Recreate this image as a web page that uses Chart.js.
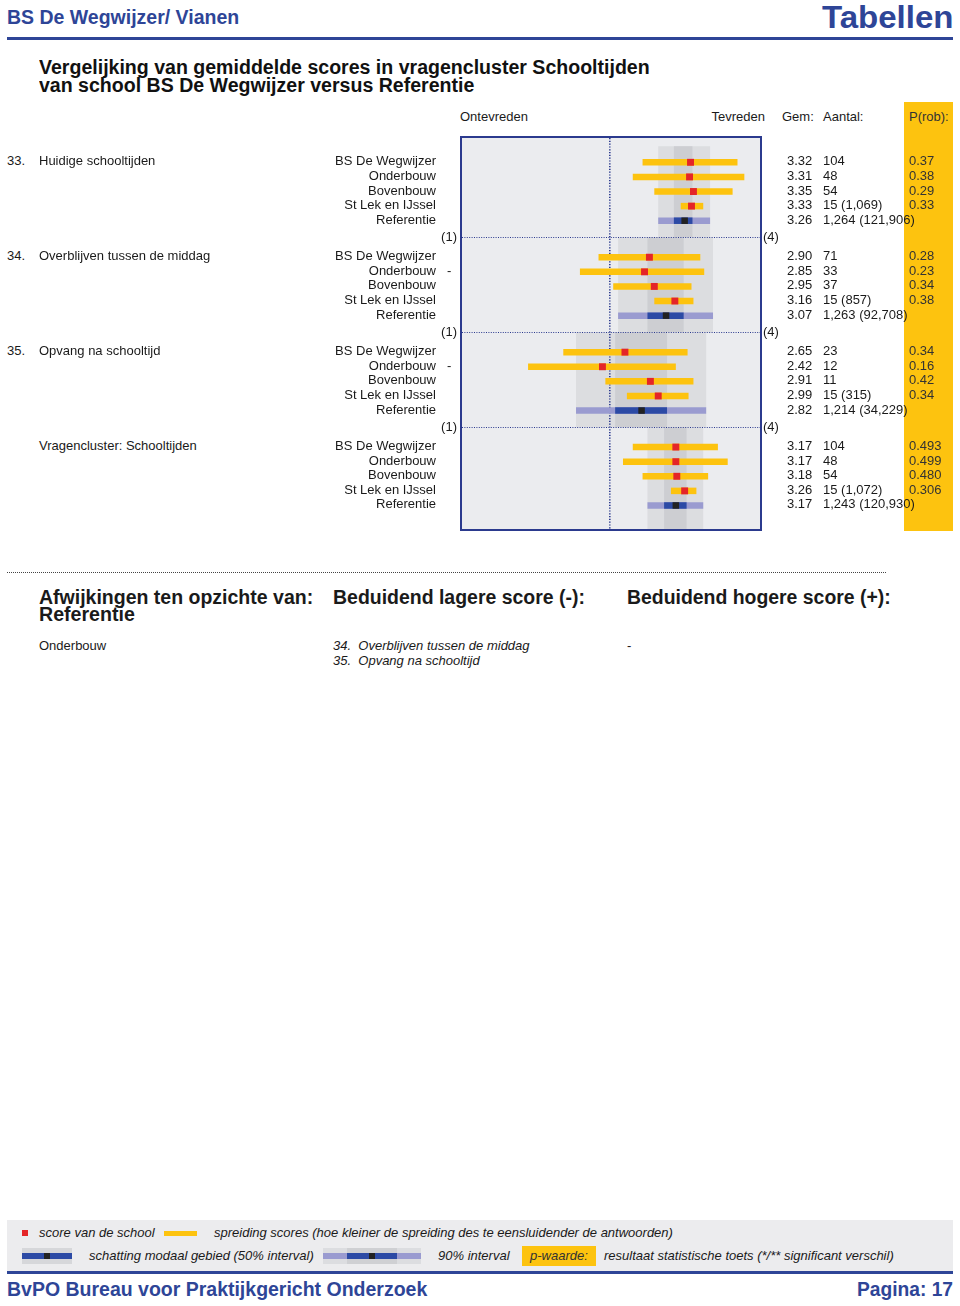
<!DOCTYPE html>
<html>
<head>
<meta charset="utf-8">
<title>Schooltijden</title>
<script src="https://cdn.jsdelivr.net/npm/chart.js@4.4.0/dist/chart.umd.min.js"></script>
<style>
body { margin:0; width:960px; height:1306px; position:relative; background:#fff; overflow:hidden;
       font-family:"Liberation Sans", Arial, sans-serif; font-size:13px; color:#1a1a1a; }
.abs { position:absolute; white-space:nowrap; }
.nar { font-family:"Liberation Sans", Arial, sans-serif; font-weight:bold; transform-origin:left top; }
.nar.rechts { transform-origin:right top; }
.blue { color:#2e4597; }
.row { height:16px; line-height:16px; }
.it { font-style:italic; }
#box { position:absolute; left:460px; top:136px; width:302px; height:395px; box-sizing:border-box;
       border:2px solid #2b3a8e; background:#ebecef; }
#box canvas { display:block; }
</style>
</head>
<body>

<div class="abs nar blue" data-w="232" style="left:7px;top:6px;font-size:21px;line-height:21px;">BS De Wegwijzer/ Vianen</div>
<div class="abs nar blue rechts" data-w="131" style="right:7px;top:0px;font-size:31px;line-height:35px;">Tabellen</div>
<div class="abs" style="left:7px;top:37px;width:946px;height:3px;background:#2e4597;"></div>

<div class="abs nar" data-w="611" style="left:39px;top:58px;font-size:20px;line-height:18px;height:18px;color:#111;">Vergelijking van gemiddelde scores in vragencluster Schooltijden</div>
<div class="abs nar" data-w="435" style="left:39px;top:76px;font-size:20px;line-height:18px;height:18px;color:#111;">van school BS De Wegwijzer versus Referentie</div>

<!-- P(rob) kolom -->
<div class="abs" style="left:904px;top:102px;width:49px;height:429px;background:#fdc30f;"></div>

<div class="abs row" style="left:460px;top:109px;">Ontevreden</div>
<div class="abs row" style="right:195px;top:109px;">Tevreden</div>
<div class="abs row" style="left:782px;top:109px;">Gem:</div>
<div class="abs row" style="left:823px;top:109px;">Aantal:</div>
<div class="abs row" style="left:909px;top:109px;color:#333;">P(rob):</div>

<div id="box"><canvas id="grafiek" width="298" height="391"></canvas></div>
<div id="teksten"></div>

<div class="abs" style="left:7px;top:572px;width:879px;border-top:1px dotted #444;"></div>
<div class="abs nar" data-w="274" style="left:39px;top:589px;font-size:20px;line-height:17px;height:17px;">Afwijkingen ten opzichte van:</div>
<div class="abs nar" data-w="96" style="left:39px;top:606px;font-size:20px;line-height:17px;height:17px;">Referentie</div>
<div class="abs nar" data-w="252" style="left:333px;top:589px;font-size:20px;line-height:17px;">Beduidend lagere score (-):</div>
<div class="abs nar" data-w="264" style="left:627px;top:589px;font-size:20px;line-height:17px;">Beduidend hogere score (+):</div>
<div class="abs row" style="left:39px;top:638px;">Onderbouw</div>
<div class="abs row it" style="left:333px;top:638px;">34.&nbsp; Overblijven tussen de middag</div>
<div class="abs row it" style="left:333px;top:653px;">35.&nbsp; Opvang na schooltijd</div>
<div class="abs row" style="left:627px;top:638px;">-</div>

<!-- legenda -->
<div class="abs" style="left:7px;top:1220px;width:946px;height:51px;background:#ececee;"></div>
<div class="abs" style="left:22px;top:1230px;width:6px;height:6px;background:#e42528;"></div>
<div class="abs row it" style="left:39px;top:1225px;">score van de school</div>
<div class="abs" style="left:164px;top:1231px;width:33px;height:5px;background:#fdc30f;"></div>
<div class="abs row it" style="left:214px;top:1225px;">spreiding scores (hoe kleiner de spreiding des te eensluidender de antwoorden)</div>

<div class="abs" style="left:22px;top:1248px;width:50px;height:16px;background:#d6d7da;"></div>
<div class="abs" style="left:22px;top:1253px;width:50px;height:6px;background:#2c4aa5;"></div>
<div class="abs" style="left:44px;top:1253px;width:6px;height:6px;background:#222;"></div>
<div class="abs row it" style="left:89px;top:1248px;">schatting modaal gebied (50% interval)</div>

<div class="abs" style="left:323px;top:1248px;width:98px;height:16px;background:#dcdde0;"></div>
<div class="abs" style="left:347px;top:1248px;width:50px;height:16px;background:#cfd0d3;"></div>
<div class="abs" style="left:323px;top:1253px;width:98px;height:6px;background:#9a9bd0;"></div>
<div class="abs" style="left:347px;top:1253px;width:50px;height:6px;background:#2c4aa5;"></div>
<div class="abs" style="left:369px;top:1253px;width:6px;height:6px;background:#222;"></div>
<div class="abs row it" style="left:438px;top:1248px;">90% interval</div>
<div class="abs" style="left:522px;top:1246px;width:74px;height:20px;background:#fdc30f;"></div>
<div class="abs row it" style="left:530px;top:1248px;color:#333;">p-waarde:</div>
<div class="abs row it" style="left:604px;top:1248px;">resultaat statistische toets (*/** significant verschil)</div>

<div class="abs" style="left:7px;top:1271px;width:946px;height:3px;background:#2e4597;"></div>
<div class="abs nar blue" data-w="420" style="left:7px;top:1279px;font-size:20px;line-height:20px;">BvPO Bureau voor Praktijkgericht Onderzoek</div>
<div class="abs nar blue rechts" data-w="96" style="right:7px;top:1279px;font-size:20px;line-height:20px;">Pagina: 17</div>

<script>
// data
const vraagNummers = ['33.', '34.', '35.', ''];
const vraagTitels = ['Huidige schooltijden', 'Overblijven tussen de middag', 'Opvang na schooltijd', 'Vragencluster: Schooltijden'];
const groepen = ['BS De Wegwijzer', 'Onderbouw', 'Bovenbouw', 'St Lek en IJssel', 'Referentie'];

const gemiddelden = [
    [3.32, 3.31, 3.35, 3.33, 3.26],
    [2.90, 2.85, 2.95, 3.16, 3.07],
    [2.65, 2.42, 2.91, 2.99, 2.82],
    [3.17, 3.17, 3.18, 3.26, 3.17]
];
const aantallen = [
    ['104', '48', '54', '15 (1,069)', '1,264 (121,906)'],
    ['71', '33', '37', '15 (857)', '1,263 (92,708)'],
    ['23', '12', '11', '15 (315)', '1,214 (34,229)'],
    ['104', '48', '54', '15 (1,072)', '1,243 (120,930)']
];
const pRob = [
    ['0.37', '0.38', '0.29', '0.33'],
    ['0.28', '0.23', '0.34', '0.38'],
    ['0.34', '0.16', '0.42', '0.34'],
    ['0.493', '0.499', '0.480', '0.306']
];
const significant = [
    ['', '', '', ''],
    ['', '-', '', ''],
    ['', '-', '', ''],
    ['', '', '', '']
];
// spreiding (gele balken)
const spreidingLaag = [
    [2.83, 2.73, 2.95, 3.22],
    [2.38, 2.19, 2.53, 2.95],
    [2.02, 1.66, 2.45, 2.67],
    [2.73, 2.63, 2.83, 3.12]
];
const spreidingHoog = [
    [3.80, 3.87, 3.75, 3.45],
    [3.42, 3.46, 3.33, 3.35],
    [3.29, 3.17, 3.35, 3.30],
    [3.60, 3.70, 3.50, 3.38]
];
// referentie intervallen
const ref90Laag = [2.99, 2.58, 2.15, 2.88];
const ref90Hoog = [3.52, 3.55, 3.48, 3.45];
const ref50Laag = [3.15, 2.88, 2.55, 3.05];
const ref50Hoog = [3.34, 3.25, 3.08, 3.28];
const schaalLabels = ['(1)', '(4)'];

// koppen smaller maken (Arial Narrow look)
document.querySelectorAll('.nar[data-w]').forEach(el => {
    const w = el.scrollWidth;
    el.style.transform = `scaleX(${(+el.dataset.w / w).toFixed(4)})`;
});

// layout van de rijen (in rij-eenheden)
const GROEP_STAP = 6.5;
const SCHEIDING = 5.14;
const Y_MIN = -1.664, Y_MAX = 25.11;
const rijY = (g, r) => g * GROEP_STAP + r;
const scheidingen = [0, 1, 2].map(g => rijY(g, SCHEIDING));

const kleurGeel = '#fdc30f', kleurRood = '#e42528', kleurPaars = '#9a9bd0', kleurBlauw = '#2c4aa5', kleurZwart = '#222';

const datasets = [];
const lijn = (lo, hi, y, kleur, order) => ({
    type: 'line',
    data: [{ x: lo, y: y }, { x: hi, y: y }],
    borderColor: kleur,
    borderWidth: 6.5,
    borderCapStyle: 'butt',
    pointRadius: 0,
    order: order
});

const schoolPunten = [];
const refPunten = [];
gemiddelden.forEach((rij, g) => {
    for (let r = 0; r < 4; r++) {
        datasets.push(lijn(spreidingLaag[g][r], spreidingHoog[g][r], rijY(g, r), kleurGeel, 3));
        schoolPunten.push({ x: rij[r], y: rijY(g, r) });
    }
    datasets.push(lijn(ref90Laag[g], ref90Hoog[g], rijY(g, 4), kleurPaars, 3));
    datasets.push(lijn(ref50Laag[g], ref50Hoog[g], rijY(g, 4), kleurBlauw, 2));
    refPunten.push({ x: rij[4], y: rijY(g, 4) });
});
datasets.push({ type: 'scatter', data: schoolPunten, pointStyle: 'rect', pointRadius: 4.9, pointBorderWidth: 0, backgroundColor: kleurRood, order: 0 });
datasets.push({ type: 'scatter', data: refPunten, pointStyle: 'rect', pointRadius: 4.6, pointBorderWidth: 0, backgroundColor: kleurZwart, order: 0 });

// grijze banden achter de groepen (referentie intervallen)
const bandenPlugin = {
    id: 'banden',
    beforeDraw(chart) {
        const { ctx, scales: { x, y } } = chart;
        ctx.save();
        for (let g = 0; g < 4; g++) {
            const boven = g === 0 ? rijY(0, -1.1) : scheidingen[g - 1];
            const onder = g === 3 ? Y_MAX : scheidingen[g];
            const y1 = y.getPixelForValue(boven), y2 = y.getPixelForValue(onder);
            ctx.fillStyle = '#dcdde0';
            let x1 = x.getPixelForValue(ref90Laag[g]), x2 = x.getPixelForValue(ref90Hoog[g]);
            ctx.fillRect(x1, y1, x2 - x1, y2 - y1);
            ctx.fillStyle = '#cdced2';
            x1 = x.getPixelForValue(ref50Laag[g]); x2 = x.getPixelForValue(ref50Hoog[g]);
            ctx.fillRect(x1, y1, x2 - x1, y2 - y1);
        }
        ctx.restore();
    }
};

const canvas = document.getElementById('grafiek');
const grafiek = new Chart(canvas.getContext('2d'), {
    data: { datasets: datasets },
    options: {
        responsive: false,
        animation: false,
        events: [],
        layout: { padding: 0, autoPadding: false },
        plugins: { legend: { display: false }, tooltip: { enabled: false } },
        scales: {
            x: {
                type: 'linear', min: 0.985, max: 4.03,
                afterBuildTicks: s => { s.ticks = [{ value: 2.5 }]; },
                ticks: { display: false },
                grid: { color: '#2b3a8e', lineWidth: 1.6, drawTicks: false },
                border: { display: false, dash: [1.2, 1.6] }
            },
            y: {
                type: 'linear', min: Y_MIN, max: Y_MAX, reverse: true,
                afterBuildTicks: s => { s.ticks = scheidingen.map(v => ({ value: v })); },
                ticks: { display: false },
                grid: { color: '#2b3a8e', lineWidth: 1, drawTicks: false },
                border: { display: false, dash: [1, 1.4] }
            }
        }
    },
    plugins: [bandenPlugin]
});

// tekst naast de grafiek, uitgelijnd op de y-as
const teksten = document.getElementById('teksten');
const boxTop = 138;
const pix = v => boxTop + grafiek.scales.y.getPixelForValue(v);
function tekst(inhoud, stijl) {
    const d = document.createElement('div');
    d.className = 'abs row';
    d.textContent = inhoud;
    d.style.cssText += stijl;
    teksten.appendChild(d);
}
gemiddelden.forEach((rij, g) => {
    const y0 = pix(rijY(g, 0)) - 9;
    tekst(vraagNummers[g], `left:7px;top:${y0}px;`);
    tekst(vraagTitels[g], `left:39px;top:${y0}px;`);
    groepen.forEach((naam, r) => {
        const yy = pix(rijY(g, r)) - 9;
        tekst(naam, `right:524px;top:${yy}px;`);
        if (r < 4 && significant[g][r]) tekst(significant[g][r], `left:447px;top:${yy}px;`);
        tekst(rij[r].toFixed(2), `left:787px;top:${yy}px;`);
        tekst(aantallen[g][r], `left:823px;top:${yy}px;`);
        if (r < 4) tekst(pRob[g][r], `left:909px;top:${yy}px;color:#333;`);
    });
});
scheidingen.forEach(v => {
    const yy = pix(v) - 8;
    tekst(schaalLabels[0], `right:503px;top:${yy}px;`);
    tekst(schaalLabels[1], `left:763px;top:${yy}px;`);
});
</script>
</body>
</html>
